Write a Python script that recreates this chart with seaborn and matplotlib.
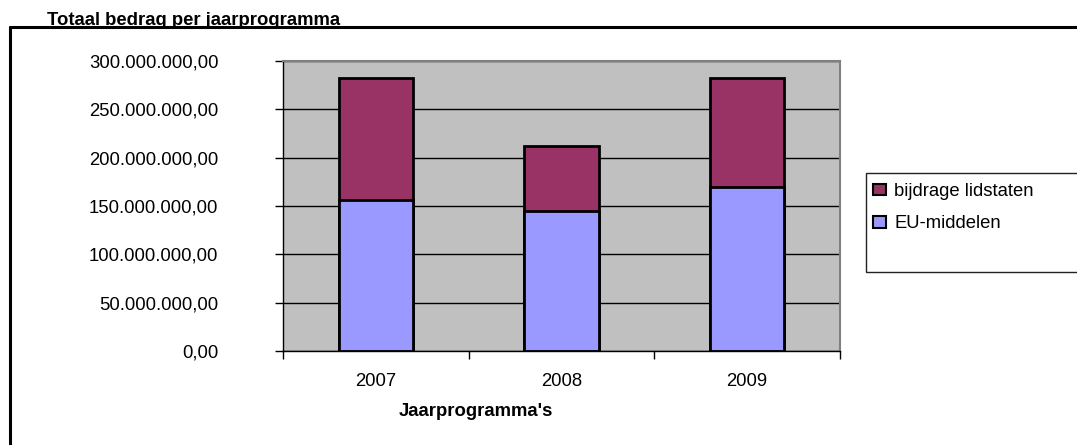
import numpy as np
import pandas as pd
import seaborn as sns
import matplotlib.pyplot as plt
from matplotlib.patches import Patch, Rectangle
from matplotlib.lines import Line2D
from matplotlib.ticker import FuncFormatter, FixedLocator

# data
years = ["2007", "2008", "2009"]
eu_middelen = [156e6, 145e6, 170e6]
bijdrage_lidstaten = [126e6, 67e6, 112e6]
series_labels = ["bijdrage lidstaten", "EU-middelen"]
series_colors = ["#993366", "#9999FF"]

df = pd.DataFrame({"jaar": years, "eu": eu_middelen, "lid": bijdrage_lidstaten})
df["totaal"] = df["eu"] + df["lid"]

sns.set_style("white")
plt.rcParams["font.family"] = ["Liberation Sans", "DejaVu Sans"]
plt.rcParams["text.color"] = "black"
FS = 13.3

W, H = 1077, 445
fig = plt.figure(figsize=(W / 100, H / 100), dpi=100)
ax = fig.add_axes([283 / W, 1 - 351 / H, (840 - 283) / W, (351 - 61) / H])
ax.set_facecolor("#C0C0C0")

# stacked bars: total first (top part colour), then EU part over it
sns.barplot(data=df, x="jaar", y="totaal", color=series_colors[0], saturation=1,
            width=0.4, edgecolor="black", linewidth=2, errorbar=None, ax=ax)
sns.barplot(data=df, x="jaar", y="eu", color=series_colors[1], saturation=1,
            width=0.4, edgecolor="black", linewidth=2, errorbar=None, ax=ax)

ax.set_xlim(-0.5, 2.5)
ax.set_ylim(0, 300e6)
ax.set_yticks(np.arange(0, 300e6 + 1, 50e6))
ax.yaxis.set_major_formatter(FuncFormatter(
    lambda v, p: f"{v:,.2f}".replace(",", "X").replace(".", ",").replace("X", ".")))
ax.set_axisbelow(True)
ax.yaxis.grid(True, color="black", linewidth=1.0)
ax.xaxis.grid(False)

ax.tick_params(axis="y", which="major", direction="out", length=6, width=1,
               color="black", pad=40.5, labelsize=FS, labelcolor="black", left=True)
ax.tick_params(axis="x", which="major", length=0, pad=16, labelsize=FS, labelcolor="black")
ax.xaxis.set_minor_locator(FixedLocator([-0.5, 0.5, 1.5, 2.5]))
ax.tick_params(axis="x", which="minor", direction="out", length=6, width=1,
               color="black", bottom=True)
ax.set_xlabel("")
ax.set_ylabel("")

for side in ["left", "bottom"]:
    ax.spines[side].set_color("black")
    ax.spines[side].set_linewidth(1)
for side in ["top", "right"]:
    ax.spines[side].set_color("#808080")
    ax.spines[side].set_linewidth(1.5)

# axis title
fig.text(476 / W, 1 - 412 / H, "Jaarprogramma's", ha="center", va="center",
         fontsize=FS, fontweight="bold", color="black")

# outer chart frame (cut off at right and bottom) and chart title
frame_y = 1 - 27 / H
frame_x = 9.5 / W
fig.add_artist(Line2D([frame_x, 1.01], [frame_y, frame_y], transform=fig.transFigure,
                      color="black", linewidth=2.2))
fig.add_artist(Line2D([frame_x, frame_x], [frame_y, -0.01], transform=fig.transFigure,
                      color="black", linewidth=2.2))
fig.text(47 / W, 1 - 25 / H, "Totaal bedrag per jaarprogramma", ha="left",
         va="baseline", fontsize=FS, fontweight="bold", color="black")

# legend box
fig.add_artist(Rectangle((866 / W, 1 - 272 / H), (1100 - 866) / W, 99 / H,
                         transform=fig.transFigure, facecolor="white",
                         edgecolor="#222222", linewidth=1))
handles = [Patch(facecolor=c, edgecolor="black", linewidth=1.5) for c in series_colors]
fig.legend(handles, series_labels, loc="upper left",
           bbox_to_anchor=(873 / W, 1 - 183 / H), frameon=False, fontsize=FS,
           handlelength=0.7, handleheight=0.6, handletextpad=0.45,
           labelspacing=0.82, borderpad=0, borderaxespad=0, labelcolor="black")

fig.savefig("out.png", dpi=100)
